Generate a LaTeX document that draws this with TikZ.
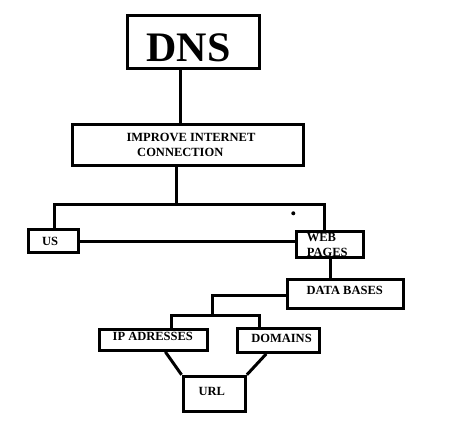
\documentclass[tikz,border=0pt]{standalone}
\usepackage{fontspec}
\setmainfont{Liberation Serif}
\usetikzlibrary{calc}
\tikzset{
  box/.style={draw=black, line width=3pt, rectangle, inner sep=0pt},
  lbl/.style={font=\fontsize{12.5}{14}\selectfont\bfseries, inner sep=0pt, anchor=base},
  conn/.style={draw=black, line width=3pt},
}
\begin{document}
\begin{tikzpicture}[x=1pt,y=-1pt]
\useasboundingbox[fill=white] (0,0) rectangle (474,438);
% boxes
\node[box, minimum width=131.7pt, minimum height=52.4pt] (dns) at (193.4,42) {};
\node[box, minimum width=230.5pt, minimum height=41.6pt] (imp) at (187.8,145) {};
\node[box, minimum width=50pt, minimum height=22.5pt] (us) at (53,240.8) {};
\node[box, minimum width=67.4pt, minimum height=25.7pt] (web) at (330,244.8) {};
\node[box, minimum width=115.7pt, minimum height=29pt] (db) at (345.8,294.2) {};
\node[box, minimum width=108pt, minimum height=21.3pt] (ip) at (153.7,339.7) {};
\node[box, minimum width=82.3pt, minimum height=24.3pt] (dom) at (278.2,340.2) {};
\node[box, minimum width=62.3pt, minimum height=35pt] (url) at (214.2,393.8) {};
% texts
\node[inner sep=0pt, anchor=base, font=\fontsize{42}{46}\selectfont\bfseries] (tdns) at (188.5,61.7) {DNS};
\node[lbl] (timp1) at (191,141.7) {IMPROVE INTERNET};
\node[lbl] (timp2) at (180.3,156.7) {CONNECTION};
\node[lbl] (tus) at (50.2,245.7) {US};
\node[lbl, anchor=base west] (tweb1) at (306.7,241.7) {WEB};
\node[lbl, anchor=base west] (tweb2) at (306.7,256.7) {PAGES};
\node[lbl] (tdb) at (344.7,295) {DATA BASES};
\node[lbl] (tip) at (152.8,340.7) {IP ADRESSES};
\node[lbl] (tdom) at (281.5,342.7) {DOMAINS};
\node[lbl] (turl) at (211.7,395) {URL};
% junction coordinates
\coordinate (bar) at (176.7,205);
\coordinate (barL) at (54.7,205);
\coordinate (barR) at (324.3,205);
\coordinate (dbL) at (212.7,296);
\coordinate (bar2) at (212.7,315.7);
\coordinate (bar2L) at (171.3,315.7);
\coordinate (bar2R) at (259.5,315.7);
% dot
\fill (293.3,213.3) circle (2pt);
% connectors
\draw[conn] (dns.south -| 180,0) -- (imp.north -| 180,0);
\draw[conn] (imp.south -| bar) -- (bar);
\draw[conn, line join=miter] (us.north -| barL) -- (barL) -- (barR) -- (web.north -| barR);
\draw[conn] (us.east |- 0,241.7) -- (web.west |- 0,241.7);
\draw[conn] (web.south -| 330,0) -- (db.north -| 330,0);
\draw[conn, line join=miter] (db.west |- dbL) -- (dbL) -- (bar2);
\draw[conn, line join=miter] (ip.north -| bar2L) -- (bar2L) -- (bar2R) -- (dom.north -| bar2R);
\draw[conn] ($(ip.south west)!0.605!(ip.south east)$) -- (url.north west);
\draw[conn] ($(dom.south west)!0.36!(dom.south east)$) -- (url.north east);
\end{tikzpicture}
\end{document}
